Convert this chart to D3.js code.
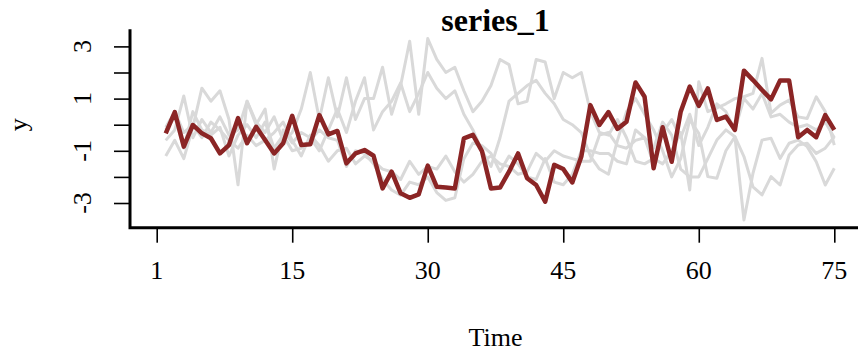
<!DOCTYPE html>
<html>
<head>
<meta charset="utf-8">
<script src="https://cdn.jsdelivr.net/npm/d3@7/dist/d3.min.js"></script>
<style>
  body { margin: 0; background: #fff; }
  text { font-family: "Liberation Serif", "Times New Roman", serif; fill: #000; }
</style>
</head>
<body>
<div id="chart"></div>
<script>
// time index and the highlighted series
const timeIdx = d3.range(1, 76);
const series1 = [-0.33, 0.48, -0.84, -0.01, -0.33, -0.52, -1.10, -0.78, 0.25, -0.71,
  -0.08, -0.59, -1.10, -0.71, 0.34, -0.78, -0.75, 0.37, -0.37, -0.24,
  -1.48, -1.10, -0.97, -1.19, -2.44, -1.80, -2.63, -2.80, -2.67, -1.57,
  -2.38, -2.41, -2.44, -0.52, -0.39, -1.01, -2.44, -2.41, -1.80, -1.10,
  -2.05, -2.31, -2.95, -1.54, -1.70, -2.21, -1.22, 0.75, -0.01, 0.48,
  -0.16, 0.11, 1.62, 1.07, -1.67, -0.10, -1.42, 0.50, 1.46, 0.72,
  1.39, 0.18, 0.31, -0.20, 2.07, 1.71, 1.33, 0.97, 1.69, 1.69,
  -0.48, -0.20, -0.48, 0.37, -0.20];

// the other series, drawn in grey behind
const series2 = [-0.6, -0.2, 1.1, -0.5, 0.2, -0.3, 0.3, -0.4, -0.2, 0.9,
  0.1, -0.3, 0.3, -0.6, -0.3, 0.6, 2.0, 0.2, 1.8, 0.3,
  1.8, 0.2, 1.0, 1.0, 2.2, 0.4, 1.5, 3.2, 0.4, 3.3,
  2.5, 2.0, 2.2, 1.3, 0.5, 0.9, 1.5, 2.5, 2.3, 0.8,
  0.9, 2.5, 2.4, 1.0, 2.0, 1.8, 2.0, 0.5, -0.3, -0.4,
  0.2, -0.5, -1.4, -1.5, -1.3, -1.5, -1.0, -0.3, -2.5, 1.65,
  0.5, 0.64, 0.8, 1.0, 1.07, 1.2, 2.54, 0.44, 0.75, 0.94,
  0.3, 0.24, 1.07, 0.5, -0.78];
const series3 = [-1.2, -0.6, -1.3, -0.1, 1.4, 0.9, 1.3, 0.2, -2.3, 0.9,
  0.0, 0.6, -1.7, -0.2, -0.7, -0.3, -0.5, -1.0, -0.2, 0.6,
  -0.3, 0.9, 1.8, -0.2, 0.5, 0.9, 1.6, 0.5, 1.2, 2.0,
  1.4, 1.0, 1.3, 0.4, -0.2, -1.0, -1.6, -0.5, 0.9, 1.2,
  1.5, 1.7, 1.2, 0.8, 0.2, 0.0, -0.3, -1.2, -1.7, -1.9,
  -0.6, 0.5, 1.0, 0.4, -0.2, -1.0, -2.0, -1.3, 0.2, -0.33,
  -1.99, -2.05, -1.0, -0.46, -3.65, -1.86, -0.59, -0.52, -1.29, -0.71,
  -0.59, -0.84, -1.42, -2.31, -1.67];
const series4 = [-0.2, 0.3, -0.9, 0.5, -0.2, -0.4, -0.1, -1.2, -0.4, 0.0,
  -0.5, 0.1, -0.9, -0.4, -1.0, -0.9, -0.6, -0.2, -0.5, -0.6,
  -1.6, -1.0, -1.1, -1.5, -2.1, -2.5, -2.7, -2.2, -2.3, -2.0,
  -2.6, -2.9, -2.8, -1.3, -0.7, -0.8, -1.1, -1.8, -1.2, -1.5,
  -2.0, -2.1, -1.3, -2.2, -2.3, -1.9, -1.0, -1.0, -1.1, -1.1,
  -1.4, -1.5, -0.2, -0.5, -1.5, -0.3, 0.2, -0.5, 0.4, -0.8,
  -0.1, 0.8, 0.5, -0.2, 1.0, 0.6, 1.2, 0.3, 0.4, 0.1,
  -0.1, 0.0, -0.2, 0.1, -0.5];
const series5 = [-0.1, 0.5, -0.3, 0.0, -0.5, 0.1, -0.2, -0.6, -0.9, -0.4,
  -0.8, -0.6, -0.3, 0.1, -0.6, -1.2, -0.4, -0.8, -1.4, -1.0,
  -0.9, -1.5, -1.2, -1.4, -1.7, -1.8, -2.1, -1.4, -1.9, -1.6,
  -1.7, -1.2, -1.8, -2.2, -1.9, -1.4, -1.2, -1.5, -1.6, -1.9,
  -1.8, -1.1, -1.4, -1.0, -1.2, -1.3, -1.4, -1.4, -0.4, -0.3,
  -0.8, -0.9, -0.6, -0.5, -0.9, 0.1, -0.4, -1.7, -2.0, -2.0,
  -1.3, -0.59, -0.2, -0.46, -1.22, -2.38, -2.69, -1.99, -2.31, -1.16,
  -0.78, -0.71, -1.1, -0.9, -0.46];
const greySeries = [series2, series3, series4, series5];

const xTicks = [0, 15, 30, 45, 60, 75];
const xTickLabels = ["1", "15", "30", "45", "60", "75"];
const yTicks = [-3, -2, -1, 0, 1, 2, 3];
const yTickLabels = ["-3", "", "-1", "", "1", "", "3"];

const width = 858, height = 355;

const svg = d3.select('#chart')
  .append('svg')
  .attr('width', width)
  .attr('height', height);

// R style scales: xlim 0..75 padded by 4%
const xScale = d3.scaleLinear()
  .domain([-3, 78])
  .range([129.6, 861.4]);

const yScale = d3.scaleLinear()
  .domain([-3.946, 3.655])
  .range([227.7, 29.3]);

const line = d3.line()
  .x((d, i) => xScale(timeIdx[i]))
  .y(d => yScale(d));

// grey lines first
svg.selectAll('.grey')
  .data(greySeries)
  .join('path')
  .attr('class', 'grey')
  .attr('fill', 'none')
  .attr('stroke', '#d9d9d9')
  .attr('stroke-width', 3)
  .attr('stroke-linejoin', 'round')
  .attr('d', line);

svg.append('path')
  .datum(series1)
  .attr('fill', 'none')
  .attr('stroke', '#8b2525')
  .attr('stroke-width', 4.5)
  .attr('stroke-linejoin', 'round')
  .attr('d', line);

// y axis
const yAxis = d3.axisLeft(yScale)
  .tickValues(yTicks)
  .tickSize(16)
  .tickFormat('');

const gy = svg.append('g')
  .attr('transform', 'translate(130,0)')
  .call(yAxis);
gy.select('.domain').remove();
gy.selectAll('.tick line').attr('stroke', '#000').attr('stroke-width', 1.6);

gy.selectAll('.ylab')
  .data(yTicks)
  .join('text')
  .attr('class', 'ylab')
  .attr('transform', d => `translate(-48,${yScale(d)}) rotate(-90)`)
  .attr('text-anchor', 'middle')
  .attr('dy', '0.35em')
  .style('font-size', '26px')
  .text((d, i) => yTickLabels[i]);

// x axis
const xAxis = d3.axisBottom(xScale)
  .tickValues(xTicks)
  .tickSize(15)
  .tickFormat('');

const gx = svg.append('g')
  .attr('transform', 'translate(0,227.7)')
  .call(xAxis);
gx.select('.domain').remove();
gx.selectAll('.tick line').attr('stroke', '#000').attr('stroke-width', 1.6);

gx.selectAll('.xlab')
  .data(xTicks)
  .join('text')
  .attr('class', 'xlab')
  .attr('x', d => xScale(d))
  .attr('y', 51)
  .attr('text-anchor', 'middle')
  .style('font-size', '26px')
  .text((d, i) => xTickLabels[i]);

// L shaped box
svg.append('path')
  .attr('d', `M130,${yScale.range()[1]}V227.7H${width}`)
  .attr('fill', 'none')
  .attr('stroke', '#000')
  .attr('stroke-width', 3);

// titles
svg.append('text')
  .attr('x', (xScale.range()[0] + xScale.range()[1]) / 2)
  .attr('y', 31)
  .attr('text-anchor', 'middle')
  .style('font-size', '32px')
  .style('font-weight', 'bold')
  .text('series_1');

svg.append('text')
  .attr('x', (xScale.range()[0] + xScale.range()[1]) / 2)
  .attr('y', 346)
  .attr('text-anchor', 'middle')
  .style('font-size', '26px')
  .text('Time');

svg.append('text')
  .attr('transform', `translate(27,${yScale(0)}) rotate(-90)`)
  .attr('text-anchor', 'middle')
  .style('font-size', '26px')
  .text('y');
</script>
</body>
</html>
